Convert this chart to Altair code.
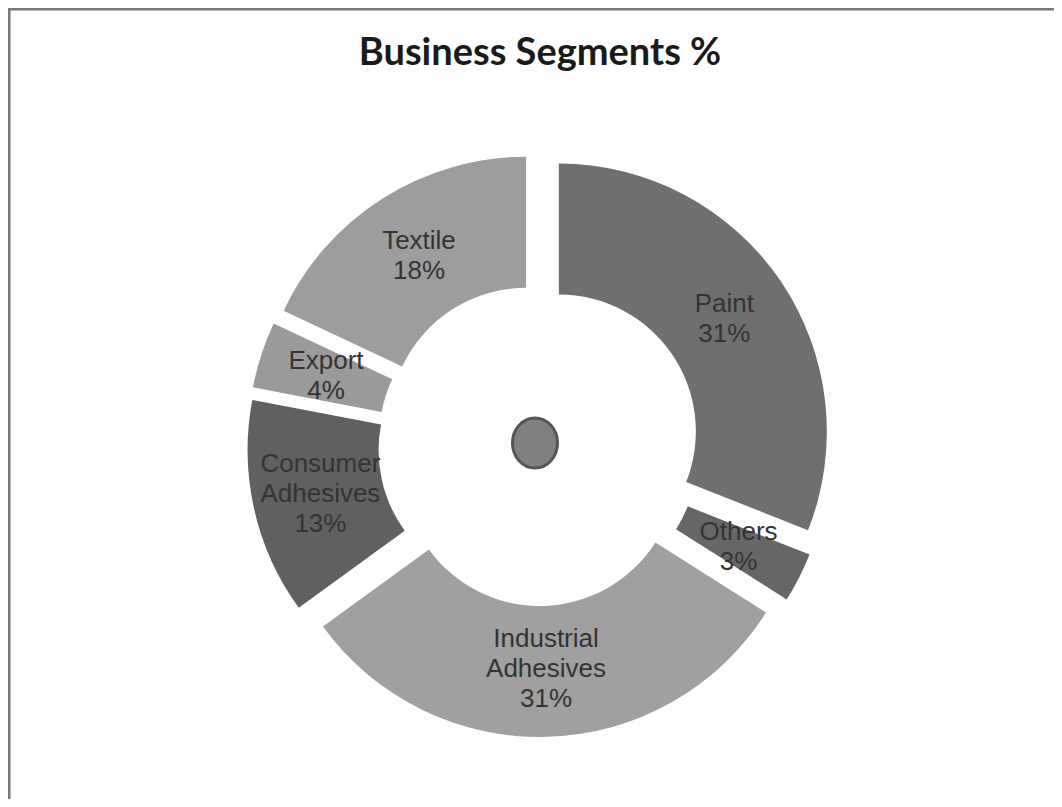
import altair as alt
import pandas as pd

# ---- data ----
segments = ["Paint", "Others", "Industrial Adhesives", "Consumer Adhesives", "Export", "Textile"]
shares = [31, 3, 31, 13, 4, 18]
labels = ["Paint\n31%", "Others\n3%", "Industrial\nAdhesives\n31%",
          "Consumer\nAdhesives\n13%", "Export\n4%", "Textile\n18%"]
colors = ["#6f6f6f", "#666666", "#a0a0a0", "#606060", "#9a9a9a", "#9d9d9d"]
order = [0, 1, 2, 3, 4, 5]

df = pd.DataFrame({"segment": segments, "share": shares, "label": labels, "order": order})

W, H = 1046, 791
CX, CY = 531, 437      # pie centre (layout)
EXPLODE = 24           # radial explode distance of each slice (style)
LABEL_R = 200          # label distance from slice centre (style)
LINE_H = 30            # label line height (style)

base = alt.Chart(df).transform_joinaggregate(
    total="sum(share)"
).transform_window(
    cum="sum(share)", sort=[alt.SortField("order")], frame=[None, 0]
).transform_calculate(
    a0="(datum.cum - datum.share) / datum.total * 2 * PI",
    a1="datum.cum / datum.total * 2 * PI",
).transform_calculate(
    mid="(datum.a0 + datum.a1) / 2",
    nlines="length(split(datum.label, '\\n'))",
).transform_calculate(
    cx=f"{CX} + {EXPLODE} * sin(datum.mid)",
    cy=f"{CY} - {EXPLODE} * cos(datum.mid)",
).transform_calculate(
    lx=f"datum.cx + {LABEL_R} * sin(datum.mid)",
    ly=f"datum.cy - {LABEL_R} * cos(datum.mid) - (datum.nlines - 1) * {LINE_H} / 2",
)

arcs = base.mark_arc(innerRadius=137, outerRadius=268).encode(
    theta=alt.Theta("a0:Q", scale=None),
    theta2="a1:Q",
    x=alt.X("cx:Q", scale=None),
    y=alt.Y("cy:Q", scale=None),
    color=alt.Color("segment:N", scale=alt.Scale(domain=segments, range=colors), legend=None),
)

text = base.mark_text(
    font="Liberation Sans", fontSize=26, lineHeight=LINE_H,
    color="#333333", lineBreak="\n", align="center", baseline="middle",
).encode(
    x=alt.X("lx:Q", scale=None),
    y=alt.Y("ly:Q", scale=None),
    text="label:N",
)

hub = alt.Chart(pd.DataFrame({"hub": [0]})).mark_point(
    shape="M -0.9 0 A 0.9 1 0 1 0 0.9 0 A 0.9 1 0 1 0 -0.9 0 Z",
    size=2500, filled=True, fill="#808080", stroke="#555555", strokeWidth=3, opacity=1,
).encode(x=alt.value(527), y=alt.value(435))

frame_left = alt.Chart(pd.DataFrame({"f": [0]})).mark_rule(color="#777777", strokeWidth=3).encode(
    x=alt.value(1), y=alt.value(0), y2=alt.value(H)
)
frame_top = alt.Chart(pd.DataFrame({"f": [0]})).mark_rule(color="#777777", strokeWidth=3).encode(
    x=alt.value(0), x2=alt.value(W), y=alt.value(1)
)

chart = alt.layer(arcs, text, hub, frame_left, frame_top).properties(
    width=W, height=H,
    autosize=alt.AutoSizeParams(type="none"),
    padding=0,
    title=alt.Title("Business Segments %", font="Lato", fontSize=38, fontWeight="bold",
                    color="#1a1a1a", anchor="middle", offset=-66, dx=9),
).configure_view(stroke=None).configure(background="white")

chart.save("out.html", embed_options={"renderer": "svg", "actions": False})
